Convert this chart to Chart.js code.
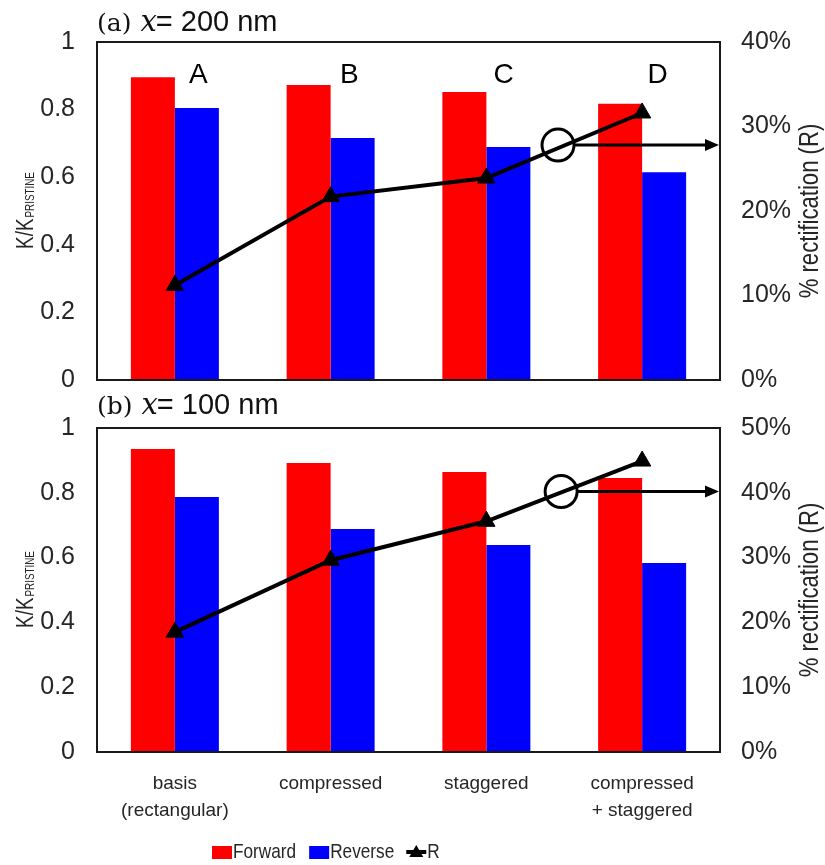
<!DOCTYPE html>
<html>
<head>
<meta charset="utf-8">
<script src="https://cdn.jsdelivr.net/npm/chart.js@4.4.1/dist/chart.umd.min.js"></script>
<style>
  html, body { margin: 0; padding: 0; background: #fff; overflow: hidden; }
  #wrapTop { position: absolute; left: 0; top: 0; width: 825px; height: 417px; }
  #wrapBottom { position: absolute; left: 0; top: 380px; width: 825px; height: 485px; }
</style>
</head>
<body>
<div id="wrapTop"><canvas id="chartA"></canvas></div>
<div id="wrapBottom"><canvas id="chartB"></canvas></div>
<script>
// categories and panel letters
const categories = [['basis', '(rectangular)'], 'compressed', 'staggered', ['compressed', '+ staggered']];
const letterLabels = ['A', 'B', 'C', 'D'];
const seriesNames = ['Forward', 'Reverse', 'R'];

// (a) x = 200 nm
const forwardA = [0.896, 0.873, 0.852, 0.817];
const reverseA = [0.805, 0.716, 0.689, 0.615];
const rectA = [11.2, 21.7, 23.9, 31.6];

// (b) x = 100 nm
const forwardB = [0.935, 0.892, 0.864, 0.846];
const reverseB = [0.787, 0.688, 0.639, 0.583];
const rectB = [18.5, 29.6, 35.6, 44.9];

// tick values
const leftTicks = [0, 0.2, 0.4, 0.6, 0.8, 1];
const rightTicksA = [0, 10, 20, 30, 40];
const rightTicksB = [0, 10, 20, 30, 40, 50];

const RED = '#ff0000';
const BLUE = '#0000ff';
const TXT = '#262626';
const SANS = '"Liberation Sans", Arial, sans-serif';
const NARROW = 0.82; // the original uses a narrow face

function buildData(fwd, rev, rect) {
    return {
        labels: categories,
        datasets: [
            {
                type: 'bar',
                label: seriesNames[0],
                data: fwd,
                backgroundColor: RED,
                yAxisID: 'y',
                order: 2,
                barPercentage: 1,
                categoryPercentage: 0.565
            },
            {
                type: 'bar',
                label: seriesNames[1],
                data: rev,
                backgroundColor: BLUE,
                yAxisID: 'y',
                order: 2,
                barPercentage: 1,
                categoryPercentage: 0.565
            },
            {
                type: 'line',
                label: seriesNames[2],
                data: rect,
                borderColor: '#000',
                backgroundColor: '#000',
                borderWidth: 4,
                pointStyle: 'triangle',
                pointRadius: 10,
                pointBorderWidth: 1,
                tension: 0,
                yAxisID: 'y1',
                order: 1
            }
        ]
    };
}

// narrow text: squeeze along the text direction, returns drawn width
function narrowText(ctx, text, x, y) {
    ctx.save();
    ctx.translate(x, y);
    ctx.scale(NARROW, 1);
    ctx.fillText(text, 0, 0);
    ctx.restore();
    return ctx.measureText(text).width * NARROW;
}

// frame, titles, letters, circle+arrow, legend
const panelDeco = {
    id: 'panelDeco',
    afterDatasetsDraw(chart, args, o) {
        const ctx = chart.ctx;
        const a = chart.chartArea;
        const xs = chart.scales.x;
        const y1 = chart.scales.y1;
        ctx.save();

        // plot frame
        ctx.strokeStyle = '#1a1a1a';
        ctx.lineWidth = 2;
        ctx.strokeRect(a.left, a.top, a.right - a.left, a.bottom - a.top);

        // panel title
        ctx.fillStyle = '#111';
        ctx.textBaseline = 'alphabetic';
        ctx.textAlign = 'left';
        let tx = a.left;
        ctx.font = '25px "DejaVu Serif", serif';
        ctx.fillText(o.tag, tx, o.titleY);
        tx += ctx.measureText(o.tag).width + 9;
        ctx.font = 'italic 29px "DejaVu Serif", serif';
        ctx.fillText('x', tx, o.titleY);
        tx += ctx.measureText('x').width - 1;
        ctx.font = '29px ' + SANS;
        ctx.fillText(o.rest, tx, o.titleY);

        // left axis title
        const cy = (a.top + a.bottom) / 2;
        ctx.fillStyle = TXT;
        ctx.save();
        ctx.translate(33, cy);
        ctx.rotate(-Math.PI / 2);
        ctx.font = '23px ' + SANS;
        const main = 'Κ/Κ';
        const w1 = ctx.measureText(main).width * NARROW;
        ctx.font = '12px ' + SANS;
        const w2 = ctx.measureText('PRISTINE').width * NARROW;
        const u0 = -(w1 + w2) / 2;
        ctx.font = '23px ' + SANS;
        narrowText(ctx, main, u0, 0);
        ctx.font = '12px ' + SANS;
        narrowText(ctx, 'PRISTINE', u0 + w1 + 1, 1);
        ctx.restore();

        // right axis title
        ctx.save();
        ctx.translate(818, cy);
        ctx.rotate(-Math.PI / 2);
        ctx.font = '27px ' + SANS;
        const rt = '% rectification (R)';
        narrowText(ctx, rt, -ctx.measureText(rt).width * NARROW / 2, 0);
        ctx.restore();

        // letters above bars
        if (o.letters) {
            ctx.fillStyle = '#000';
            ctx.font = '28px ' + SANS;
            ctx.textAlign = 'center';
            const offs = [0.15, 0.12, 0.11, 0.1];
            letterLabels.forEach((L, i) => {
                ctx.fillText(L, xs.getPixelForValue(i + offs[i]), a.top + 41);
            });
            ctx.textAlign = 'left';
        }

        // circle pointing to right axis
        const cx = xs.getPixelForValue(o.circleAt);
        const ccy = y1.getPixelForValue(o.circleVal);
        const r = 16;
        ctx.strokeStyle = '#000';
        ctx.fillStyle = '#000';
        ctx.lineWidth = 3;
        ctx.beginPath();
        ctx.arc(cx, ccy, r, 0, Math.PI * 2);
        ctx.stroke();
        const ex = a.right - 1;
        ctx.beginPath();
        ctx.moveTo(cx + r, ccy);
        ctx.lineTo(ex - 10, ccy);
        ctx.stroke();
        ctx.beginPath();
        ctx.moveTo(ex, ccy);
        ctx.lineTo(ex - 14, ccy - 6);
        ctx.lineTo(ex - 14, ccy + 6);
        ctx.closePath();
        ctx.fill();

        // legend
        if (o.legendY) {
            const ly = o.legendY;
            let lx = 212;
            ctx.font = '21px ' + SANS;
            ctx.textAlign = 'left';
            ctx.textBaseline = 'middle';
            [RED, BLUE].forEach((c, i) => {
                ctx.fillStyle = c;
                ctx.fillRect(lx, ly - 6, 20, 13);
                lx += 21;
                ctx.fillStyle = TXT;
                lx += narrowText(ctx, seriesNames[i], lx, ly) + 13;
            });
            ctx.strokeStyle = '#000';
            ctx.lineWidth = 4;
            ctx.beginPath();
            ctx.moveTo(lx - 1, ly);
            ctx.lineTo(lx + 19, ly);
            ctx.stroke();
            ctx.fillStyle = '#000';
            ctx.beginPath();
            ctx.moveTo(lx + 9, ly - 7);
            ctx.lineTo(lx + 16, ly + 5);
            ctx.lineTo(lx + 2, ly + 5);
            ctx.closePath();
            ctx.fill();
            lx += 20;
            ctx.fillStyle = TXT;
            narrowText(ctx, seriesNames[2], lx, ly);
        }
        ctx.restore();
    }
};

function buildOptions(p) {
    return {
        responsive: true,
        maintainAspectRatio: false,
        animation: false,
        events: [],
        layout: { padding: { top: p.padTop, left: 0, right: 0, bottom: 0 } },
        plugins: {
            legend: { display: false },
            tooltip: { enabled: false },
            panelDeco: p.deco
        },
        scales: {
            x: {
                grid: { display: false, drawTicks: false },
                border: { display: false },
                ticks: {
                    display: p.showX,
                    color: TXT,
                    padding: 18,
                    maxRotation: 0,
                    autoSkip: false,
                    font: { family: SANS, size: 19, lineHeight: 1.42 }
                },
                afterFit: function(scale) { scale.height = p.xHeight; }
            },
            y: {
                position: 'left',
                min: 0,
                max: 1,
                grid: { display: false, drawTicks: false },
                border: { display: false },
                ticks: {
                    color: TXT,
                    padding: 22,
                    font: { family: SANS, size: 25 },
                    callback: function(value) { return String(value); }
                },
                afterBuildTicks: function(scale) {
                    scale.ticks = leftTicks.map(v => ({ value: v }));
                },
                afterFit: function(scale) { scale.width = 97; }
            },
            y1: {
                position: 'right',
                min: 0,
                max: p.rightTicks[p.rightTicks.length - 1],
                grid: { display: false, drawTicks: false },
                border: { display: false },
                ticks: {
                    color: TXT,
                    padding: 21,
                    font: { family: SANS, size: 25 },
                    callback: function(value) { return value + '%'; }
                },
                afterBuildTicks: function(scale) {
                    scale.ticks = p.rightTicks.map(v => ({ value: v }));
                },
                afterFit: function(scale) { scale.width = 105; }
            }
        }
    };
}

function createCharts() {
    // (a) panel: canvas 0..417, plot 42..380
    new Chart(document.getElementById('chartA'), {
        type: 'bar',
        data: buildData(forwardA, reverseA, rectA),
        options: buildOptions({
            padTop: 42,
            xHeight: 20,
            showX: false,
            rightTicks: rightTicksA,
            deco: { tag: '(a)', rest: '= 200 nm', titleY: 31, letters: true, circleAt: 2.46, circleVal: 27.8 }
        }),
        plugins: [panelDeco]
    });

    // (b) panel: canvas 380..865, plot 428..752
    new Chart(document.getElementById('chartB'), {
        type: 'bar',
        data: buildData(forwardB, reverseB, rectB),
        options: buildOptions({
            padTop: 48,
            xHeight: 113,
            showX: true,
            rightTicks: rightTicksB,
            deco: { tag: '(b)', rest: '= 100 nm', titleY: 34, letters: false, circleAt: 2.48, circleVal: 40.2, legendY: 472 }
        }),
        plugins: [panelDeco]
    });
}

createCharts();
</script>
</body>
</html>
